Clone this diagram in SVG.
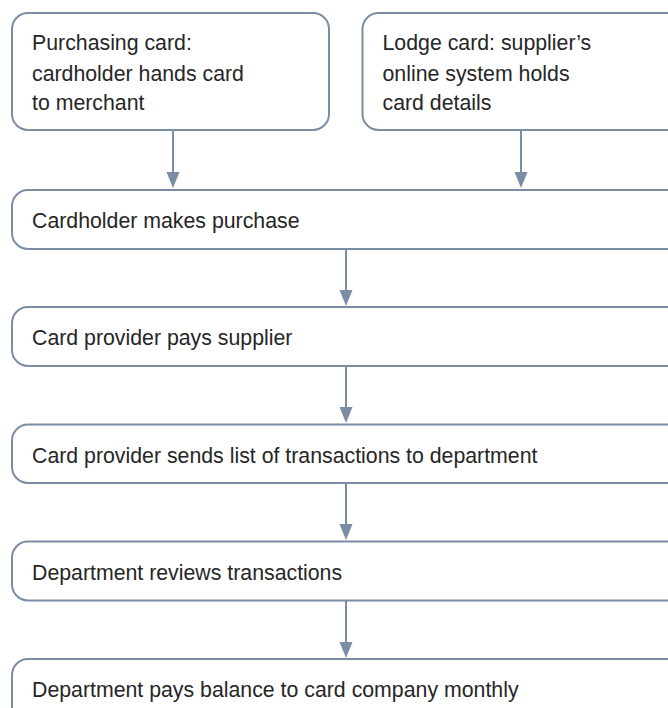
<svg xmlns="http://www.w3.org/2000/svg" width="668" height="708" viewBox="0 0 668 708">
<defs>
<style>
.box{fill:#fff;stroke:#7a8da4;stroke-width:2}
.t{font-family:"Liberation Sans",Arial,sans-serif;font-size:21.3px;fill:#262626}
.c{stroke:#7a8da4;stroke-width:2;fill:none}
.ah{fill:#7a8da4}
</style>
</defs>
<rect width="668" height="708" fill="#fff"/>
<g id="connectors">
<line class="c" x1="173" y1="130" x2="173" y2="176"/><path class="ah" d="M166.5,172 L179.5,172 L173,188 Z"/>
<line class="c" x1="521" y1="130" x2="521" y2="176"/><path class="ah" d="M514.5,172 L527.5,172 L521,188 Z"/>
<line class="c" x1="346" y1="249" x2="346" y2="294"/><path class="ah" d="M339.5,290 L352.5,290 L346,306 Z"/>
<line class="c" x1="346" y1="366" x2="346" y2="411"/><path class="ah" d="M339.5,407 L352.5,407 L346,423 Z"/>
<line class="c" x1="346" y1="483" x2="346" y2="528"/><path class="ah" d="M339.5,524 L352.5,524 L346,540 Z"/>
<line class="c" x1="346" y1="601" x2="346" y2="646"/><path class="ah" d="M339.5,642 L352.5,642 L346,658 Z"/>
</g>
<g id="n1">
<rect class="box" x="12" y="13" width="317" height="117" rx="16"/>
<text class="t" x="32" y="50">Purchasing card:</text>
<text class="t" x="32" y="80.5">cardholder hands card</text>
<text class="t" x="32" y="110">to merchant</text>
</g>
<g id="n2">
<rect class="box" x="362.5" y="13" width="340" height="117" rx="16"/>
<text class="t" x="382.5" y="50">Lodge card: supplier’s</text>
<text class="t" x="382.5" y="80.5">online system holds</text>
<text class="t" x="382.5" y="110">card details</text>
</g>
<g id="n3">
<rect class="box" x="12" y="190" width="700" height="59" rx="16"/>
<text class="t" x="32" y="228">Cardholder makes purchase</text>
</g>
<g id="n4">
<rect class="box" x="12" y="307" width="700" height="59" rx="16"/>
<text class="t" x="32" y="345">Card provider pays supplier</text>
</g>
<g id="n5">
<rect class="box" x="12" y="424.5" width="700" height="58.5" rx="16"/>
<text class="t" x="32" y="462.5">Card provider sends list of transactions to department</text>
</g>
<g id="n6">
<rect class="box" x="12" y="541.5" width="700" height="59" rx="16"/>
<text class="t" x="32" y="579.5">Department reviews transactions</text>
</g>
<g id="n7">
<rect class="box" x="12" y="659" width="700" height="80" rx="16"/>
<text class="t" x="32" y="697">Department pays balance to card company monthly</text>
</g>
</svg>
